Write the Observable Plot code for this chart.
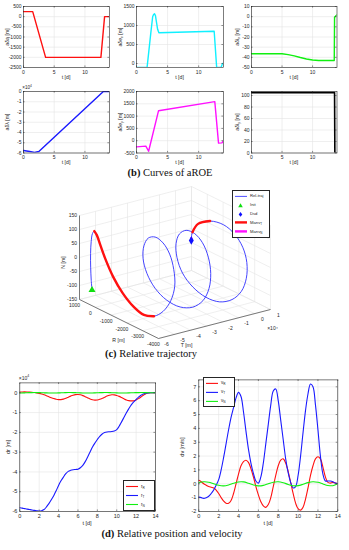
<!DOCTYPE html>
<html><head><meta charset="utf-8">
<script src="https://cdn.jsdelivr.net/npm/d3@7"></script>
<script src="https://cdn.jsdelivr.net/npm/@observablehq/plot@0.6"></script>
<style>
html,body{margin:0;padding:0;background:#fff;}
#root{position:relative;width:349px;height:550px;overflow:hidden;background:#fff;}
#root svg{position:absolute;background:transparent;}
.lbl{position:absolute;font-family:"Liberation Sans",Arial,sans-serif;color:#262626;white-space:nowrap;line-height:1;}
.lbl sub{font-size:70%;vertical-align:-0.3em;line-height:0;}
.cap{position:absolute;font-family:"Liberation Serif","DejaVu Serif",serif;font-size:10.5px;color:#111;white-space:nowrap;line-height:1;transform:translate(-50%,-80%);}
.leg{position:absolute;border:0.6px solid #262626;background:#fff;font-family:"Liberation Sans",Arial,sans-serif;color:#262626;}
.leg .row{position:absolute;left:0;white-space:nowrap;line-height:1;}
.leg sub{font-size:70%;vertical-align:-0.3em;line-height:0;}
</style></head>
<body><div id="root"></div>
<script>
// ---------------- DATA ----------------
// (b) aROE curves: breakpoint times [d] and values [m]
const aDaT  = [0, 1.5, 3.6, 12.6, 13.2, 14];
const aDa   = [250, 250, -2000, -2000, 0, 0];
const aDexT = [0, 1.7, 2.3, 2.6, 2.75, 2.9, 3.05, 3.2, 3.4, 3.6, 12.5, 12.9, 13.6, 13.85, 14];
const aDex  = [-105, -105, 800, 1230, 1290, 1310, 1260, 1100, 900, 810, 850, -105, -105, 0, 0];
const aDixT = [0, 5, 6, 7, 8, 9, 10, 11, 13.55, 13.6, 14];
const aDix  = [-36.5, -36.5, -37.3, -38.6, -40.2, -41.6, -42.6, -43.1, -43.1, -0.5, 2];
const aDlT  = [0, 1, 1.8, 2.5, 13, 14];
const aDl   = [-57500, -58500, -59500, -58500, 0, 0];
const aDeyT = [0, 1.5, 1.95, 3.55, 12.6, 13.2, 13.75, 14];
const aDey  = [-250, -220, -430, 1220, 1590, -100, -90, 0];
const aDiyT = [0, 13.6, 13.65, 14];
const aDiy  = [105, 105, 0, 0];

// (c)/(d) relative position [m], sampled every 0.25 d
const tPos = d3.range(57).map(i => i * 0.25);
const rR = [400,430,440,420, 360,260,120,-60, -300,-620,-1030,-1500, -2000,-2480,-2900,-3230,
            -3440,-3458,-3206,-2771, -2231,-1681,-1218,-926, -856,-1031,-1429,-1976, -2576,-3123,-3519,-3694,
            -3619,-3304,-2812,-2233, -1675,-1244,-1020,-1048, -1327,-1812,-2421,-3052, -3599,-3971,-4100,-3980,
            -3600,-2950,-2150,-1250, -450,-80,0,0, 0];
const rT = [-58100,-58300,-58550,-58800, -59000,-59200,-59450,-59650, -59800,-59600,-59000,-57700,
            -56000,-54100,-52000,-49500, -46800,-44500,-42600,-40900, -39700,-39200,-38900,-38750,
            -38600,-37900,-36700,-34800, -32400,-29900,-27400,-25400, -23600,-22000,-20800,-20100,
            -19800,-19700,-19600,-19300, -18600,-16900,-14700,-12400, -10100,-8000,-6100,-4600,
            -3400,-2200,-1200,-600, -200,-50,0,0, 0];
const rN = [-102,-68,-21,29, 74,105,118,109, 80,36,-14,-61, -97,-117,-113,-90, -50,-1,48,89, 112,117,100,64,
            17,-33,-77,-107, -118,-107,-76,-31, 18,65,101,117, 112,87,46,-3, -52,-91,-114,-116,
            -96,-60,-12,39, 81,109,118,105, 72,32,8,2, 0];
// relative velocity [m/s]
const tVel = d3.range(57).map(i => i * 0.25);
const vT = [-0.95,-1.0,-1.05,-1.0, -0.9,-0.7,-0.45,-0.1, 0.3,1.0,1.9,2.9, 3.9,4.8,5.5,6.2, 6.6,6.3,5.2,3.8,
            2.5,1.5,0.75,0.2, 0.05,0.5,1.5,2.9, 4.3,5.7,6.7,6.85, 6.0,4.6,3.2,1.8, 0.8,0.1,-0.3,-0.2,
            0.6,2.0,3.7,5.3, 6.5,7.2,7.0,5.7, 3.9,2.0,0.7,0.2, 0.2,0.2,0.15,0.05, 0.0];
const vR = [0.25,0.15,0.0,-0.1, -0.2,-0.25,-0.3,-0.45, -0.7,-1.0,-1.25,-1.4, -1.4,-1.2,-0.7,0.0, 0.7,1.3,1.6,1.7,
            1.55,1.1,0.5,-0.2, -0.8,-1.3,-1.6,-1.7, -1.5,-1.0,-0.2,0.6, 1.3,1.7,1.8,1.5, 0.9,0.1,-0.7,-1.4,
            -1.8,-1.9,-1.7,-1.1, -0.3,0.6,1.3,1.8, 1.95,1.8,1.2,0.5, 0.1,0.05,0.1,0.05, 0.0];
const tHalf = d3.range(29).map(i => i * 0.5);
const vN = [0.075,0.147,0.117,0.005,-0.11,-0.149,-0.084,0.04,0.135,0.137,0.043,-0.081,-0.149,-0.113,0.001,
            0.115,0.148,0.079,-0.046,-0.138,-0.134,-0.037,0.086,0.149,0.109,-0.008,-0.118,-0.14,0.0];
// manoeuvre windows [d]
const manvT = [[1.5, 3.5], [12.75, 13.25]];
const manvN = [[13.5, 14]];

// ticks
const xTicksTop = [0, 5, 10];
const xTicksBot = [0, 2, 4, 6, 8, 10, 12, 14];
const yTicksDa  = [-2500, -2000, -1500, -1000, -500, 0, 500];
const yTicksDex = [0, 500, 1000, 1500];
const yTicksDix = [-50, -40, -30, -20, -10, 0, 10];
const yTicksDl  = [-60000, -50000, -40000, -30000, -20000, -10000, 0];
const yTicksDey = [-500, 0, 500, 1000, 1500, 2000];
const yTicksDiy = [0, 20, 40, 60, 80, 100];
const yTicksDr  = [-60000, -50000, -40000, -30000, -20000, -10000, 0];
const yTicksDv  = [-2, -1, 0, 1, 2, 3, 4, 5, 6, 7];
const rTicks3 = [1000, 0, -1000, -2000, -3000, -4000];
const tTicks3 = [-60000, -50000, -40000, -30000, -20000, -10000, 0, 10000];
const nTicks3 = [-150, -100, -50, 0, 50, 100, 150];

// ---------------- HELPERS ----------------
const root = document.getElementById("root");
const AX = "#262626", GRID = "#e4e4e4";
const RED = "#ff1010", BLUE = "#1a1aff", GREEN = "#10f010", CYAN = "#10f0ff", MAG = "#ff10ff";
const fmt = d => String(d);
const zip = (ts, vs) => ts.map((t, i) => ({t, v: vs[i]}));

function place(el, x, y) { el.style.left = x + "px"; el.style.top = y + "px"; root.append(el); }
function label(html, x, y, size, rot) {
  const d = document.createElement("div");
  d.className = "lbl"; d.innerHTML = html; d.style.fontSize = size + "px";
  d.style.transform = "translate(-50%,-50%)" + (rot ? " rotate(-90deg)" : "");
  place(d, x, y);
}
function caption(html, x, y) {
  const d = document.createElement("div"); d.className = "cap"; d.innerHTML = html; place(d, x, y);
}
function legend(x, y, w, rowH, items, size) {
  const d = document.createElement("div"); d.className = "leg";
  d.style.width = w + "px"; d.style.height = (rowH * items.length + 2) + "px"; d.style.fontSize = size + "px";
  items.forEach((it, i) => {
    const r = document.createElement("div"); r.className = "row";
    r.style.top = (1 + i * rowH) + "px"; r.style.height = rowH + "px";
    const sw = it.sw ?? 13;
    let g = "";
    if (it.kind === "line") g = `<line x1="1" x2="${sw}" y1="${rowH/2}" y2="${rowH/2}" stroke="${it.color}" stroke-width="${it.w}"/>`;
    if (it.kind === "tri") g = `<path d="M${sw/2},${rowH/2-2.2}L${sw/2+2.3},${rowH/2+1.8}L${sw/2-2.3},${rowH/2+1.8}Z" fill="${it.color}"/>`;
    if (it.kind === "dia") g = `<path d="M${sw/2},${rowH/2-2.3}L${sw/2+1.8},${rowH/2}L${sw/2},${rowH/2+2.3}L${sw/2-1.8},${rowH/2}Z" fill="${it.color}"/>`;
    r.innerHTML = `<svg width="${sw+2}" height="${rowH}" style="position:absolute;left:1px;top:0">${g}</svg>` +
      `<span style="position:absolute;left:${sw+4}px;top:${rowH/2}px;transform:translateY(-50%)">${it.label}</span>`;
    d.append(r);
  });
  place(d, x, y);
}

function panel(o) {
  const fw = o.fr - o.fl, fh = o.fb - o.ft;
  const chart = Plot.plot({
    width: o.sw, height: o.sh,
    marginLeft: o.fl - o.sx, marginRight: o.sx + o.sw - o.fr,
    marginTop: o.ft - o.sy, marginBottom: o.sy + o.sh - o.fb,
    x: {domain: o.xd}, y: {domain: o.yd},
    style: {fontFamily: "Liberation Sans, Arial, sans-serif", fontSize: o.fs + "px", color: AX, background: "transparent", overflow: "visible"},
    marks: [
      Plot.gridX(o.xt, {stroke: GRID, strokeOpacity: 1, strokeWidth: 0.6}),
      Plot.gridY(o.yt, {stroke: GRID, strokeOpacity: 1, strokeWidth: 0.6}),
      ...o.series.map(s => Plot.line(s.data, {x: "t", y: "v", stroke: s.color, strokeWidth: s.w ?? 1.3, curve: s.curve ?? "linear", clip: true})),
      Plot.tickX(o.xt, {x: d => d, insetTop: fh - 1.6, stroke: AX, strokeWidth: 0.5}),
      Plot.tickX(o.xt, {x: d => d, insetBottom: fh - 1.6, stroke: AX, strokeWidth: 0.5}),
      Plot.tickY(o.yt, {y: d => d, insetRight: fw - 1.6, stroke: AX, strokeWidth: 0.5}),
      Plot.tickY(o.yt, {y: d => d, insetLeft: fw - 1.6, stroke: AX, strokeWidth: 0.5}),
      Plot.frame({stroke: AX, strokeWidth: 0.6}),
      Plot.axisX({ticks: o.xt, tickSize: 0, tickPadding: o.xpad ?? 3, label: null, tickFormat: fmt, fontSize: o.fs}),
      Plot.axisY({ticks: o.yt, tickSize: 0, tickPadding: o.ypad ?? 2, label: null, tickFormat: o.yfmt ?? fmt, fontSize: o.fs})
    ]
  });
  chart.style.left = o.sx + "px"; chart.style.top = o.sy + "px";
  root.append(chart);
}

// ---------------- (b) six aROE panels ----------------
const colX = [{sx: 0, sw: 115, fl: 23, fr: 109, yl: 7.5}, {sx: 115, sw: 117, fl: 136, fr: 223, yl: 120.5}, {sx: 232, sw: 117, fl: 251, fr: 336.5, yl: 237.5}];
const rowY = [{sy: 0, sh: 84, ft: 6, fb: 67, xl: 77.5}, {sy: 84, sh: 86, ft: 91, fb: 152.5, xl: 162.5}];
const topPanels = [
  {c: 0, r: 0, yd: [-2500, 500], yt: yTicksDa, data: zip(aDaT, aDa), color: RED, lab: "aδa [m]"},
  {c: 1, r: 0, yd: [-105, 1500], yt: yTicksDex, data: zip(aDexT, aDex), color: CYAN, lab: "aδe<sub>x</sub> [m]"},
  {c: 2, r: 0, yd: [-50, 10], yt: yTicksDix, data: zip(aDixT, aDix), color: GREEN, lab: "aδi<sub>x</sub> [m]"},
  {c: 0, r: 1, yd: [-60000, 0], yt: yTicksDl, data: zip(aDlT, aDl), color: BLUE, lab: "aδλ [m]", yfmt: d => String(d / 1e4), sci: true},
  {c: 1, r: 1, yd: [-500, 2000], yt: yTicksDey, data: zip(aDeyT, aDey), color: MAG, lab: "aδe<sub>y</sub> [m]"},
  {c: 2, r: 1, yd: [0, 107], yt: yTicksDiy, data: zip(aDiyT, aDiy), color: "#000", lab: "aδi<sub>y</sub> [m]", w: 1.6}
];
for (const p of topPanels) {
  const c = colX[p.c], r = rowY[p.r];
  panel({sx: c.sx, sw: c.sw, fl: c.fl, fr: c.fr, sy: r.sy, sh: r.sh, ft: r.ft, fb: r.fb,
         xd: [0, 14], yd: p.yd, xt: xTicksTop, yt: p.yt, yfmt: p.yfmt, fs: 5, xpad: 2.5, ypad: 2,
         series: [{data: p.data, color: p.color, w: p.w ?? 1.4}]});
  label("t [d]", (c.fl + c.fr) / 2, r.xl, 5.2);
  label(p.lab, c.yl, (r.ft + r.fb) / 2, 5.2, true);
  if (p.sci) label("×10<sup style='font-size:70%'>4</sup>", c.fl + 4, r.ft - 3, 4.6);
}
caption("<b>(b)</b> Curves of aROE", 170, 176);

// ---------------- (c) 3-D relative trajectory ----------------
const S3 = {sx: 40, sy: 184, sw: 262, sh: 168};
const A3 = [79, 299], B3 = [158, 338], C3 = [270, 309], TOP3 = 215;
const Rdom = [1000, -4000], Tdom = [-60000, 10000], Ndom = [-150, 150];
function proj(R, T, N) {
  const fr = (R - Rdom[0]) / (Rdom[1] - Rdom[0]);
  const ft = (T - Tdom[0]) / (Tdom[1] - Tdom[0]);
  const fn = (N - Ndom[0]) / (Ndom[1] - Ndom[0]);
  return [A3[0] + fr * (B3[0] - A3[0]) + ft * (C3[0] - B3[0]),
          A3[1] + fr * (B3[1] - A3[1]) + ft * (C3[1] - B3[1]) - fn * (A3[1] - TOP3)];
}
const seg = (p, q) => ({x1: p[0], y1: p[1], x2: q[0], y2: q[1]});
const grid3 = [];
for (const r of rTicks3) {
  grid3.push(seg(proj(r, Tdom[0], Ndom[0]), proj(r, Tdom[1], Ndom[0])));
  grid3.push(seg(proj(r, Tdom[1], Ndom[0]), proj(r, Tdom[1], Ndom[1])));
}
for (const t of tTicks3) {
  grid3.push(seg(proj(Rdom[0], t, Ndom[0]), proj(Rdom[1], t, Ndom[0])));
  grid3.push(seg(proj(Rdom[0], t, Ndom[0]), proj(Rdom[0], t, Ndom[1])));
}
for (const n of nTicks3) {
  grid3.push(seg(proj(Rdom[0], Tdom[0], n), proj(Rdom[0], Tdom[1], n)));
  grid3.push(seg(proj(Rdom[0], Tdom[1], n), proj(Rdom[1], Tdom[1], n)));
}
const axes3 = [
  seg(proj(Rdom[0], Tdom[0], Ndom[0]), proj(Rdom[1], Tdom[0], Ndom[0])),
  seg(proj(Rdom[1], Tdom[0], Ndom[0]), proj(Rdom[1], Tdom[1], Ndom[0])),
  seg(proj(Rdom[0], Tdom[0], Ndom[0]), proj(Rdom[0], Tdom[0], Ndom[1]))
];
const traj = tPos.map((t, i) => { const p = proj(rR[i], rT[i], rN[i]); return {t, x: p[0], y: p[1]}; });
const inWin = (wins) => traj.flatMap(d => wins.map((w, k) => (d.t >= w[0] && d.t <= w[1]) ? {...d, k} : null)).filter(Boolean);
const lblN = nTicks3.map(n => { const p = proj(Rdom[0], Tdom[0], n); return {x: p[0] - 2.5, y: p[1], s: String(n)}; });
const lblR = rTicks3.map(r => { const p = proj(r, Tdom[0], Ndom[0]); return {x: p[0] - 5, y: p[1] + 6, s: String(r)}; });
const lblT = tTicks3.map(t => { const p = proj(Rdom[1], t, Ndom[0]); return {x: p[0] + 8, y: p[1] + 6, s: String(t / 1e4)}; });
const chart3 = Plot.plot({
  width: S3.sw, height: S3.sh, margin: 0,
  x: {domain: [S3.sx, S3.sx + S3.sw], range: [0, S3.sw], axis: null},
  y: {domain: [S3.sy, S3.sy + S3.sh], range: [0, S3.sh], axis: null},
  style: {fontFamily: "Liberation Sans, Arial, sans-serif", fontSize: "5px", color: AX, background: "transparent", overflow: "visible"},
  marks: [
    Plot.link(grid3, {x1: "x1", y1: "y1", x2: "x2", y2: "y2", stroke: GRID, strokeWidth: 0.6}),
    Plot.link(axes3, {x1: "x1", y1: "y1", x2: "x2", y2: "y2", stroke: AX, strokeWidth: 0.6}),
    Plot.line(traj, {x: "x", y: "y", stroke: "#3a3aff", strokeWidth: 0.95, curve: "catmull-rom"}),
    Plot.line(inWin(manvT), {x: "x", y: "y", z: "k", stroke: RED, strokeWidth: 2.4, curve: "catmull-rom"}),
    Plot.line(inWin(manvN), {x: "x", y: "y", z: "k", stroke: MAG, strokeWidth: 2.4}),
    Plot.dot([traj[0]], {x: "x", y: "y", symbol: "triangle", fill: "#10e010", r: 2.6}),
    Plot.dot([traj[traj.length - 1]], {x: "x", y: "y", symbol: "diamond", fill: "#1010ff", r: 2.6}),
    Plot.text(lblN, {x: "x", y: "y", text: "s", textAnchor: "end", fontSize: 5}),
    Plot.text(lblR, {x: "x", y: "y", text: "s", textAnchor: "middle", fontSize: 5}),
    Plot.text(lblT, {x: "x", y: "y", text: "s", textAnchor: "middle", fontSize: 5}),
    Plot.text(["N [m]"], {x: () => 63, y: () => 262, rotate: -90, fontSize: 5.2}),
    Plot.text(["R [m]"], {x: () => 118, y: () => 340, fontSize: 5.2}),
    Plot.text(["T [m]"], {x: () => 186, y: () => 345, fontSize: 5.2}),
    Plot.text(["×10⁴"], {x: () => 272, y: () => 328, fontSize: 5})
  ]
});
chart3.style.left = S3.sx + "px"; chart3.style.top = S3.sy + "px";
root.append(chart3);
legend(232, 190, 36, 8.8, [
  {kind: "line", color: "#3a3aff", w: 0.9, label: "Rel-traj"},
  {kind: "tri", color: "#10e010", label: "Init"},
  {kind: "dia", color: "#1010ff", label: "Dsd"},
  {kind: "line", color: RED, w: 2.4, label: "Manv<sub>T</sub>"},
  {kind: "line", color: MAG, w: 2.4, label: "Manv<sub>N</sub>"}
], 4.2);
caption("<b>(c)</b> Relative trajectory", 151, 357);

// ---------------- (d) relative position & velocity ----------------
panel({sx: 0, sw: 172, fl: 19.3, fr: 155, sy: 366, sh: 166, ft: 382.4, fb: 511,
       xd: [0, 14], yd: [-60000, 5000], xt: xTicksBot, yt: yTicksDr, yfmt: d => String(d / 1e4), fs: 5.5, xpad: 3, ypad: 2.5,
       series: [
         {data: zip(tPos, rR), color: RED, w: 1.1, curve: "catmull-rom"},
         {data: zip(tPos, rT), color: BLUE, w: 1.1, curve: "catmull-rom"},
         {data: zip(tPos, rN), color: GREEN, w: 1.1, curve: "catmull-rom"}
       ]});
label("×10<sup style='font-size:70%'>4</sup>", 24, 377.5, 5);
label("t [d]", 87, 523.5, 5.5);
label("dr [m]", 9, 447, 5.5, true);
legend(123, 480, 30, 9, [
  {kind: "line", color: RED, w: 1.1, label: "r<sub>R</sub>"},
  {kind: "line", color: BLUE, w: 1.1, label: "r<sub>T</sub>"},
  {kind: "line", color: GREEN, w: 1.1, label: "r<sub>N</sub>"}
], 4.5);

panel({sx: 176, sw: 173, fl: 198.3, fr: 337.3, sy: 366, sh: 166, ft: 379.4, fb: 511,
       xd: [0, 14], yd: [-2, 7.5], xt: xTicksBot, yt: yTicksDv, fs: 5.5, xpad: 3, ypad: 2.5,
       series: [
         {data: zip(tVel, vR), color: RED, w: 1.1, curve: "catmull-rom"},
         {data: zip(tVel, vT), color: BLUE, w: 1.1, curve: "catmull-rom"},
         {data: zip(tHalf, vN), color: GREEN, w: 1.1, curve: "catmull-rom"}
       ]});
label("t [d]", 268, 523.5, 5.5);
label("dv [m/s]", 183, 447, 5.5, true);
legend(203, 377, 30, 8.8, [
  {kind: "line", color: RED, w: 1.1, label: "v<sub>R</sub>"},
  {kind: "line", color: BLUE, w: 1.1, label: "v<sub>T</sub>"},
  {kind: "line", color: GREEN, w: 1.1, label: "v<sub>N</sub>"}
], 4.5);
caption("<b>(d)</b> Relative position and velocity", 172, 537);
</script>
</body></html>
